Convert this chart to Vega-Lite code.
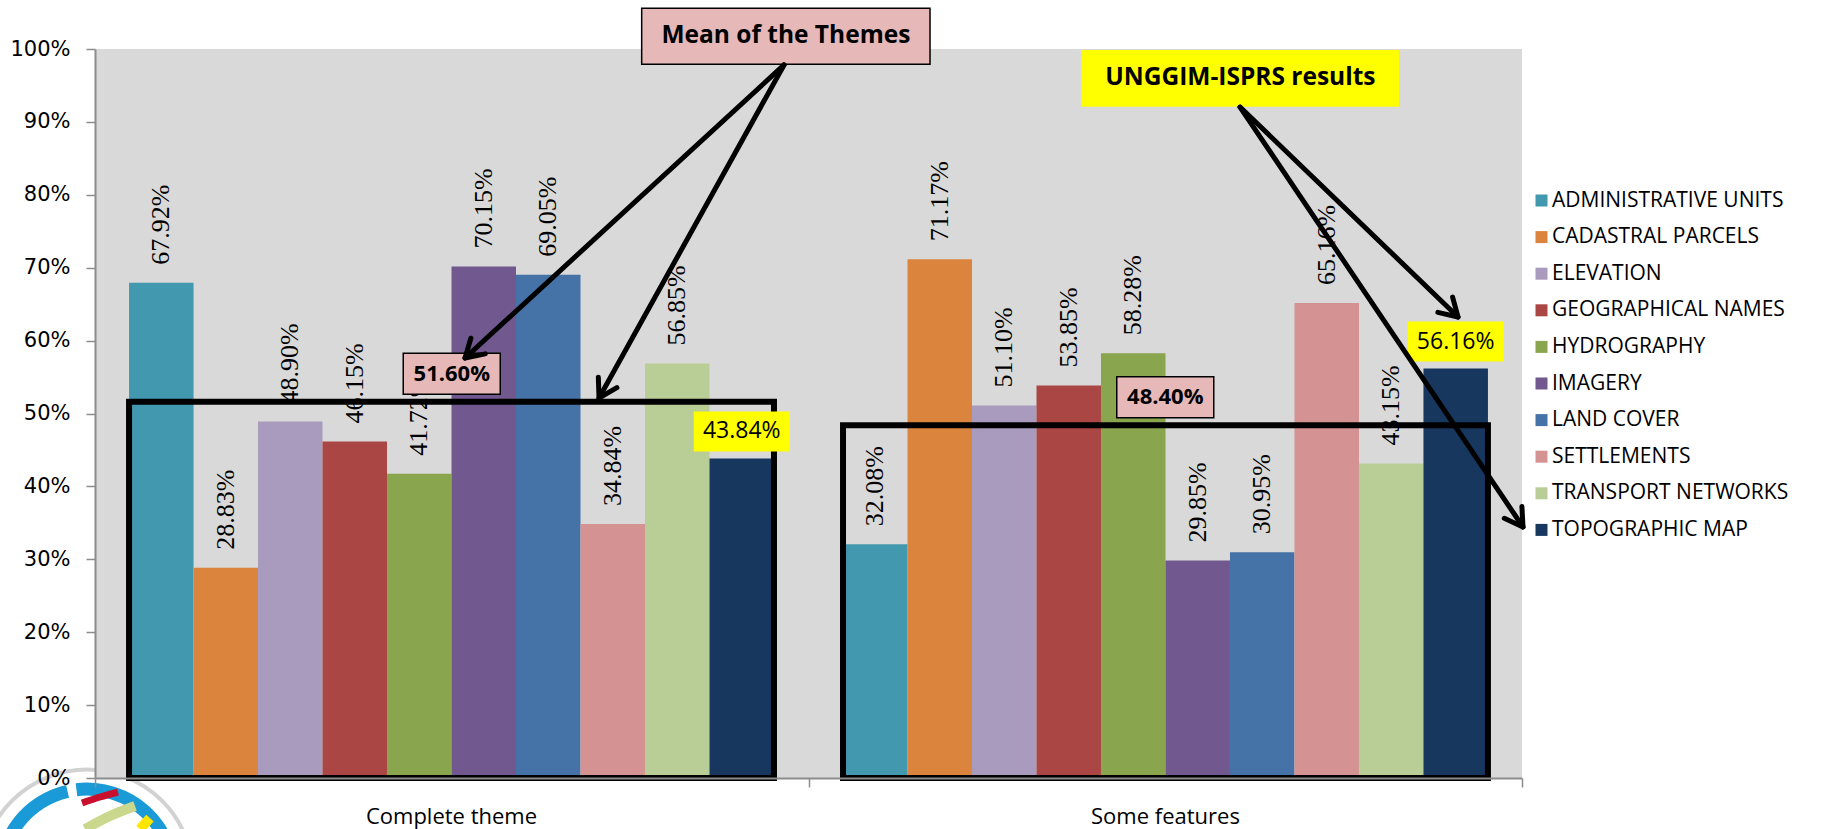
{
  "$schema": "https://vega.github.io/schema/vega-lite/v6.json",
  "width": 1427,
  "height": 729,
  "autosize": {"type": "none"},
  "padding": {"left": 95, "top": 49, "right": 309, "bottom": 51},
  "background": "white",
  "config": {
    "view": {"stroke": null},
    "axis": {"grid": false}
  },
  "datasets": {
    "bars": [
      {"group": "Complete theme", "theme": "ADMINISTRATIVE UNITS", "value": 0.6792},
      {"group": "Complete theme", "theme": "CADASTRAL PARCELS", "value": 0.2883},
      {"group": "Complete theme", "theme": "ELEVATION", "value": 0.4890},
      {"group": "Complete theme", "theme": "GEOGRAPHICAL NAMES", "value": 0.4615},
      {"group": "Complete theme", "theme": "HYDROGRAPHY", "value": 0.4172},
      {"group": "Complete theme", "theme": "IMAGERY", "value": 0.7015},
      {"group": "Complete theme", "theme": "LAND COVER", "value": 0.6905},
      {"group": "Complete theme", "theme": "SETTLEMENTS", "value": 0.3484},
      {"group": "Complete theme", "theme": "TRANSPORT NETWORKS", "value": 0.5685},
      {"group": "Complete theme", "theme": "TOPOGRAPHIC MAP", "value": 0.4384},
      {"group": "Some features", "theme": "ADMINISTRATIVE UNITS", "value": 0.3208},
      {"group": "Some features", "theme": "CADASTRAL PARCELS", "value": 0.7117},
      {"group": "Some features", "theme": "ELEVATION", "value": 0.5110},
      {"group": "Some features", "theme": "GEOGRAPHICAL NAMES", "value": 0.5385},
      {"group": "Some features", "theme": "HYDROGRAPHY", "value": 0.5828},
      {"group": "Some features", "theme": "IMAGERY", "value": 0.2985},
      {"group": "Some features", "theme": "LAND COVER", "value": 0.3095},
      {"group": "Some features", "theme": "SETTLEMENTS", "value": 0.6516},
      {"group": "Some features", "theme": "TRANSPORT NETWORKS", "value": 0.4315},
      {"group": "Some features", "theme": "TOPOGRAPHIC MAP", "value": 0.5616}
    ],
    "means": [
      {"group": "Complete theme", "mean": 0.516},
      {"group": "Some features", "mean": 0.484}
    ],
    "callouts": [
      {"label": "Mean of the Themes", "kind": "pink", "x0": 0.7662, "x1": 1.1703, "y0": 0.979, "y1": 1.0558, "xc": 0.9683, "yc": 1.0174},
      {"label": "UNGGIM-ISPRS results", "kind": "yellow", "x0": 1.3829, "x1": 1.8276, "y0": 0.9208, "y1": 0.9986, "xc": 1.6053, "yc": 0.9597}
    ],
    "arrows": [
      {"arrow": "A", "x0": 0.9657, "y0": 0.9781, "x1": 0.5186, "y1": 0.5761, "angle": 137.4},
      {"arrow": "B", "x0": 0.9657, "y0": 0.9781, "x1": 0.7064, "y1": 0.5213, "angle": 119.1},
      {"arrow": "C", "x0": 1.6048, "y0": 0.9204, "x1": 1.9103, "y1": 0.6324, "angle": 43.9},
      {"arrow": "D", "x0": 1.6048, "y0": 0.9204, "x1": 2.0014, "y1": 0.3443, "angle": 56.0}
    ],
    "logo": [{"gx": -0.0112, "v": -0.1339}],
    "stripes": [
      {"stripe": "red", "order": 0, "gx": -0.0182, "v": -0.0343},
      {"stripe": "red", "order": 1, "gx": 0.0070, "v": -0.0261},
      {"stripe": "red", "order": 2, "gx": 0.0322, "v": -0.0192},
      {"stripe": "green", "order": 0, "gx": -0.0140, "v": -0.0700},
      {"stripe": "green", "order": 1, "gx": 0.0210, "v": -0.0521},
      {"stripe": "green", "order": 2, "gx": 0.0561, "v": -0.0384},
      {"stripe": "yellow", "order": 0, "gx": 0.0631, "v": -0.0700},
      {"stripe": "yellow", "order": 1, "gx": 0.0771, "v": -0.0549}
    ],
    "plot": [{"x0": 0, "x1": 2, "y0": 0, "y1": 1}]
  },
  "resolve": {"scale": {"x": "independent"}, "axis": {"x": "independent", "y": "independent"}},
  "layer": [
    {
      "data": {"name": "logo"},
      "mark": {"type": "arc", "theta": 0, "theta2": 6.2832, "radius": 0, "radius2": 106, "fill": "white", "stroke": "#D2D2D2", "strokeWidth": 4},
      "encoding": {
        "x": {"field": "gx", "type": "quantitative", "scale": {"domain": [0, 2], "nice": false, "zero": false}, "axis": null},
        "y": {"field": "v", "type": "quantitative", "scale": {"domain": [0, 1], "nice": false}, "axis": null}
      }
    },
    {
      "data": {"name": "logo"},
      "mark": {"type": "arc", "theta": -1.6, "theta2": -0.227, "radius": 80, "radius2": 93, "fill": "#1A9AD6"},
      "encoding": {
        "x": {"field": "gx", "type": "quantitative", "scale": {"domain": [0, 2], "nice": false, "zero": false}, "axis": null},
        "y": {"field": "v", "type": "quantitative", "scale": {"domain": [0, 1], "nice": false}, "axis": null}
      }
    },
    {
      "data": {"name": "logo"},
      "mark": {"type": "arc", "theta": -0.122, "theta2": 1.6, "radius": 80, "radius2": 93, "fill": "#1A9AD6"},
      "encoding": {
        "x": {"field": "gx", "type": "quantitative", "scale": {"domain": [0, 2], "nice": false, "zero": false}, "axis": null},
        "y": {"field": "v", "type": "quantitative", "scale": {"domain": [0, 1], "nice": false}, "axis": null}
      }
    },
    {
      "data": {"name": "stripes"},
      "transform": [{"filter": "datum.stripe === 'green'"}],
      "mark": {"type": "line", "color": "#C9D88C", "strokeWidth": 10, "interpolate": "monotone"},
      "encoding": {
        "x": {"field": "gx", "type": "quantitative", "scale": {"domain": [0, 2], "nice": false, "zero": false}, "axis": null},
        "y": {"field": "v", "type": "quantitative", "scale": {"domain": [0, 1], "nice": false}, "axis": null},
        "order": {"field": "order"}
      }
    },
    {
      "data": {"name": "stripes"},
      "transform": [{"filter": "datum.stripe === 'red'"}],
      "mark": {"type": "line", "color": "#C8102E", "strokeWidth": 7, "interpolate": "monotone"},
      "encoding": {
        "x": {"field": "gx", "type": "quantitative", "scale": {"domain": [0, 2], "nice": false, "zero": false}, "axis": null},
        "y": {"field": "v", "type": "quantitative", "scale": {"domain": [0, 1], "nice": false}, "axis": null},
        "order": {"field": "order"}
      }
    },
    {
      "data": {"name": "stripes"},
      "transform": [{"filter": "datum.stripe === 'yellow'"}],
      "mark": {"type": "line", "color": "#FFE600", "strokeWidth": 10},
      "encoding": {
        "x": {"field": "gx", "type": "quantitative", "scale": {"domain": [0, 2], "nice": false, "zero": false}, "axis": null},
        "y": {"field": "v", "type": "quantitative", "scale": {"domain": [0, 1], "nice": false}, "axis": null},
        "order": {"field": "order"}
      }
    },
    {
      "data": {"name": "plot"},
      "mark": {"type": "rect", "fill": "#D9D9D9"},
      "encoding": {
        "x": {"field": "x0", "type": "quantitative", "scale": {"domain": [0, 2], "nice": false, "zero": false},
          "axis": {"orient": "bottom", "title": null, "values": [0, 1, 2], "labels": false, "tickSize": 9, "tickColor": "#8C8C8C", "tickWidth": 1.5, "domainColor": "#8C8C8C", "domainWidth": 2, "zindex": 1}},
        "x2": {"field": "x1"},
        "y": {"field": "y0", "type": "quantitative", "scale": {"domain": [0, 1], "nice": false}, "axis": null},
        "y2": {"field": "y1"}
      }
    },
    {
      "data": {"name": "bars"},
      "mark": {"type": "bar"},
      "encoding": {
        "x": {
          "field": "group", "type": "nominal",
          "scale": {"domain": ["Complete theme", "Some features"], "paddingInner": 0.0967, "paddingOuter": 0.0477},
          "axis": {"orient": "bottom", "title": null, "labelAngle": 0, "labelFont": "Open Sans", "labelFontSize": 22, "labelColor": "black", "ticks": false, "domain": false, "labelPadding": 28, "zindex": 1}
        },
        "xOffset": {
          "field": "theme", "type": "nominal",
          "scale": {"domain": ["ADMINISTRATIVE UNITS", "CADASTRAL PARCELS", "ELEVATION", "GEOGRAPHICAL NAMES", "HYDROGRAPHY", "IMAGERY", "LAND COVER", "SETTLEMENTS", "TRANSPORT NETWORKS", "TOPOGRAPHIC MAP"], "paddingInner": 0, "paddingOuter": 0}
        },
        "y": {
          "field": "value", "type": "quantitative",
          "scale": {"domain": [0, 1], "nice": false},
          "axis": {"orient": "left", "title": null, "format": ".0%", "values": [0, 0.1, 0.2, 0.3, 0.4, 0.5, 0.6, 0.7, 0.8, 0.9, 1], "labelFont": "DejaVu Sans", "labelFontSize": 21, "labelColor": "black", "tickSize": 9, "labelPadding": 16, "tickColor": "#8C8C8C", "domainColor": "#8C8C8C", "domainWidth": 2, "tickWidth": 1.5, "zindex": 1}
        },
        "color": {
          "field": "theme", "type": "nominal",
          "scale": {
            "domain": ["ADMINISTRATIVE UNITS", "CADASTRAL PARCELS", "ELEVATION", "GEOGRAPHICAL NAMES", "HYDROGRAPHY", "IMAGERY", "LAND COVER", "SETTLEMENTS", "TRANSPORT NETWORKS", "TOPOGRAPHIC MAP"],
            "range": ["#4298AF", "#DB843D", "#A99BBD", "#AA4643", "#89A54E", "#71588F", "#4572A7", "#D49293", "#B9CD96", "#17375E"]
          },
          "legend": {"title": null, "orient": "none", "legendX": 1436, "legendY": 141, "symbolType": "square", "symbolSize": 144, "symbolStrokeWidth": 0, "labelFont": "Open Sans", "labelFontSize": 21, "labelColor": "black", "rowPadding": 14.6, "labelOffset": 0, "padding": 0, "labelLimit": 400}
        }
      }
    },
    {
      "data": {"name": "bars"},
      "transform": [{"filter": "datum.theme !== 'TOPOGRAPHIC MAP'"}],
      "mark": {"type": "text", "angle": 270, "align": "left", "baseline": "middle", "yOffset": -18, "font": "Liberation Sans Narrow", "fontSize": 26, "color": "black"},
      "encoding": {
        "x": {"field": "group", "type": "nominal", "scale": {"domain": ["Complete theme", "Some features"], "paddingInner": 0.0967, "paddingOuter": 0.0477}, "axis": null},
        "xOffset": {"field": "theme", "type": "nominal"},
        "y": {"field": "value", "type": "quantitative", "scale": {"domain": [0, 1], "nice": false}, "axis": null},
        "text": {"field": "value", "type": "quantitative", "format": ".2%"}
      }
    },
    {
      "data": {"name": "means"},
      "mark": {"type": "rect", "fillOpacity": 0, "stroke": "black", "strokeWidth": 6},
      "encoding": {
        "x": {"field": "group", "type": "nominal", "scale": {"domain": ["Complete theme", "Some features"], "paddingInner": 0.0967, "paddingOuter": 0.0477}, "axis": null},
        "y": {"field": "mean", "type": "quantitative", "scale": {"domain": [0, 1], "nice": false}, "axis": null},
        "y2": {"datum": 0}
      }
    },
    {
      "data": {"name": "means"},
      "mark": {"type": "point", "shape": "M-1,-0.423H1V0.423H-1Z", "size": 9409, "filled": true, "fill": "#E6B9B8", "stroke": "black", "strokeWidth": 1.5, "opacity": 1, "yOffset": -28},
      "encoding": {
        "x": {"field": "group", "type": "nominal", "scale": {"domain": ["Complete theme", "Some features"], "paddingInner": 0.0967, "paddingOuter": 0.0477}, "axis": null},
        "y": {"field": "mean", "type": "quantitative", "scale": {"domain": [0, 1], "nice": false}, "axis": null}
      }
    },
    {
      "data": {"name": "means"},
      "mark": {"type": "text", "font": "Open Sans", "fontSize": 22, "fontWeight": "bold", "color": "black", "yOffset": -28, "baseline": "middle", "align": "center"},
      "encoding": {
        "x": {"field": "group", "type": "nominal", "scale": {"domain": ["Complete theme", "Some features"], "paddingInner": 0.0967, "paddingOuter": 0.0477}, "axis": null},
        "y": {"field": "mean", "type": "quantitative", "scale": {"domain": [0, 1], "nice": false}, "axis": null},
        "text": {"field": "mean", "type": "quantitative", "format": ".2%"}
      }
    },
    {
      "data": {"name": "bars"},
      "transform": [{"filter": "datum.theme === 'TOPOGRAPHIC MAP'"}],
      "mark": {"type": "point", "shape": "M-1,-0.417H1V0.417H-1Z", "size": 9216, "filled": true, "fill": "#FFFF00", "strokeWidth": 0, "opacity": 1, "yOffset": -27},
      "encoding": {
        "x": {"field": "group", "type": "nominal", "scale": {"domain": ["Complete theme", "Some features"], "paddingInner": 0.0967, "paddingOuter": 0.0477}, "axis": null},
        "xOffset": {"field": "theme", "type": "nominal"},
        "y": {"field": "value", "type": "quantitative", "scale": {"domain": [0, 1], "nice": false}, "axis": null}
      }
    },
    {
      "data": {"name": "bars"},
      "transform": [{"filter": "datum.theme === 'TOPOGRAPHIC MAP'"}],
      "mark": {"type": "text", "font": "Open Sans", "fontSize": 23, "color": "black", "yOffset": -27, "baseline": "middle", "align": "center"},
      "encoding": {
        "x": {"field": "group", "type": "nominal", "scale": {"domain": ["Complete theme", "Some features"], "paddingInner": 0.0967, "paddingOuter": 0.0477}, "axis": null},
        "xOffset": {"field": "theme", "type": "nominal"},
        "y": {"field": "value", "type": "quantitative", "scale": {"domain": [0, 1], "nice": false}, "axis": null},
        "text": {"field": "value", "type": "quantitative", "format": ".2%"}
      }
    },
    {
      "data": {"name": "callouts"},
      "transform": [{"filter": "datum.kind === 'pink'"}],
      "mark": {"type": "rect", "fill": "#E6B9B8", "stroke": "black", "strokeWidth": 1.5},
      "encoding": {
        "x": {"field": "x0", "type": "quantitative", "scale": {"domain": [0, 2], "nice": false, "zero": false}, "axis": null},
        "x2": {"field": "x1"},
        "y": {"field": "y0", "type": "quantitative", "scale": {"domain": [0, 1], "nice": false}, "axis": null},
        "y2": {"field": "y1"}
      }
    },
    {
      "data": {"name": "callouts"},
      "transform": [{"filter": "datum.kind === 'yellow'"}],
      "mark": {"type": "rect", "fill": "#FFFF00", "strokeWidth": 0},
      "encoding": {
        "x": {"field": "x0", "type": "quantitative", "scale": {"domain": [0, 2], "nice": false, "zero": false}, "axis": null},
        "x2": {"field": "x1"},
        "y": {"field": "y0", "type": "quantitative", "scale": {"domain": [0, 1], "nice": false}, "axis": null},
        "y2": {"field": "y1"}
      }
    },
    {
      "data": {"name": "callouts"},
      "mark": {"type": "text", "font": "Open Sans", "fontSize": 24.5, "fontWeight": "bold", "color": "black", "baseline": "middle", "align": "center"},
      "encoding": {
        "x": {"field": "xc", "type": "quantitative", "scale": {"domain": [0, 2], "nice": false, "zero": false}, "axis": null},
        "y": {"field": "yc", "type": "quantitative", "scale": {"domain": [0, 1], "nice": false}, "axis": null},
        "text": {"field": "label", "type": "nominal"}
      }
    },
    {
      "data": {"name": "arrows"},
      "mark": {"type": "rule", "color": "black", "strokeWidth": 5, "strokeCap": "round"},
      "encoding": {
        "x": {"field": "x0", "type": "quantitative", "scale": {"domain": [0, 2], "nice": false, "zero": false}, "axis": null},
        "x2": {"field": "x1"},
        "y": {"field": "y0", "type": "quantitative", "scale": {"domain": [0, 1], "nice": false}, "axis": null},
        "y2": {"field": "y1"}
      }
    },
    {
      "data": {"name": "arrows"},
      "mark": {"type": "point", "shape": "M-1,-0.6L0,0L-1,0.6", "size": 1253, "filled": false, "color": "black", "strokeWidth": 5, "strokeCap": "round", "strokeJoin": "round", "opacity": 1},
      "encoding": {
        "x": {"field": "x1", "type": "quantitative", "scale": {"domain": [0, 2], "nice": false, "zero": false}, "axis": null},
        "y": {"field": "y1", "type": "quantitative", "scale": {"domain": [0, 1], "nice": false}, "axis": null},
        "angle": {"field": "angle", "type": "quantitative", "scale": null}
      }
    }
  ]
}
